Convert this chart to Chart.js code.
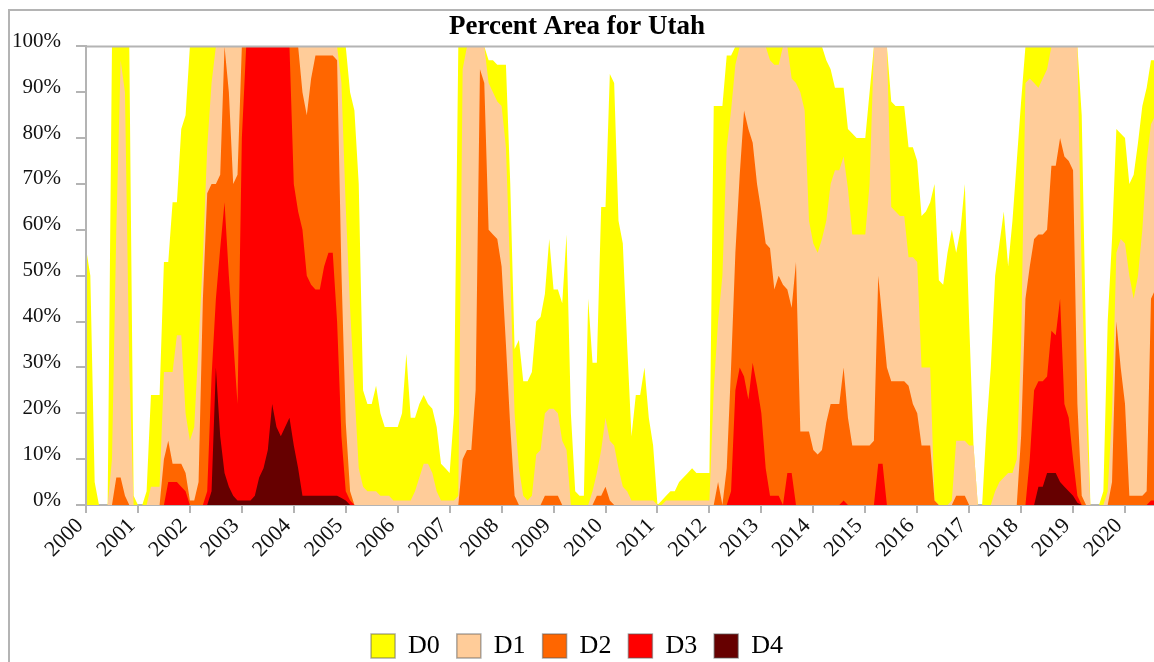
<!DOCTYPE html>
<html>
<head>
<meta charset="utf-8">
<title>Percent Area for Utah</title>
<script src="https://cdn.jsdelivr.net/npm/chart.js"></script>
<style>
  html, body { margin: 0; padding: 0; background: #fff; }
</style>
</head>
<body>
<canvas id="utah" width="1154" height="662"></canvas>
<script>
// percent of area, sampled monthly from Jan 2000, one row per year
const d0 = [
  56, 50, 5, 0, 0, 0, 100, 100, 100, 100, 100, 2,
  0, 0, 3, 24, 24, 24, 53, 53, 66, 66, 82, 85,
  100, 100, 100, 100, 100, 100, 100, 100, 100, 100, 100, 100,
  100, 100, 100, 100, 100, 100, 100, 100, 100, 100, 100, 100,
  100, 100, 100, 100, 100, 100, 100, 100, 100, 100, 100, 100,
  100, 90, 86, 70, 25, 22, 22, 26, 20, 17, 17, 17,
  17, 20, 33, 19, 19, 22, 24, 22, 21, 17, 9, 8,
  7, 20, 100, 100, 100, 100, 100, 100, 100, 97, 97, 96,
  96, 96, 70, 34, 36, 27, 27, 29, 40, 41, 46, 58,
  47, 47, 44, 59, 20, 3, 2, 2, 45, 31, 31, 65,
  65, 94, 92, 62, 57, 35, 15, 24, 24, 30, 19, 13,
  0, 1, 2, 3, 3, 5, 6, 7, 8, 7, 7, 7,
  7, 87, 87, 87, 98, 98, 100, 100, 100, 100, 100, 100,
  100, 100, 100, 100, 100, 100, 100, 100, 100, 100, 100, 100,
  100, 100, 100, 97, 95, 91, 91, 91, 82, 81, 80, 80,
  80, 90, 100, 100, 100, 100, 88, 87, 87, 87, 78, 78,
  75, 63, 64, 66, 70, 49, 48, 55, 60, 55, 60, 70,
  40, 13, 0, 0, 17, 30, 50, 57, 64, 52, 62, 75,
  88, 100, 100, 100, 100, 100, 100, 100, 100, 100, 100, 100,
  100, 100, 85, 35, 0, 0, 0, 3, 40, 58, 82, 81,
  80, 70, 72, 79, 87, 91, 97, 97
];
const d1 = [
  0, 0, 0, 0, 0, 0, 10, 60, 97, 90, 30, 0,
  0, 0, 0, 4, 4, 4, 29, 29, 29, 37, 37, 20,
  14, 17, 35, 54, 78, 92, 100, 100, 100, 100, 100, 100,
  100, 100, 100, 100, 100, 100, 100, 100, 100, 100, 100, 100,
  100, 100, 100, 100, 100, 100, 100, 100, 100, 100, 100, 92,
  65, 43, 25, 8, 4, 3, 3, 3, 2, 2, 2, 1,
  1, 1, 1, 1, 3, 6, 9, 9, 7, 3, 1, 1,
  1, 1, 2, 95, 100, 100, 100, 100, 100, 92, 90, 88,
  87, 78, 50, 20, 8, 2, 1, 2, 11, 12, 20, 21,
  21, 20, 14, 12, 0, 0, 0, 0, 0, 3, 7, 12,
  19, 14, 13, 8, 4, 3, 1, 1, 1, 1, 1, 1,
  0, 0, 1, 1, 1, 1, 1, 1, 1, 1, 1, 1,
  1, 25, 40, 50, 78, 86, 96, 100, 100, 100, 100, 100,
  100, 100, 97, 96, 96, 100, 100, 93, 92, 90, 86, 62,
  57, 55, 58, 62, 70, 73, 73, 76, 69, 59, 59, 59,
  59, 70, 100, 100, 100, 100, 65, 64, 63, 63, 54, 54,
  53, 30, 30, 30, 1, 0, 0, 0, 1, 14, 14, 14,
  13, 13, 0, 0, 0, 0, 3, 5, 6, 7, 7, 10,
  35, 92, 93, 92, 91, 93, 95, 100, 100, 100, 100, 100,
  100, 100, 50, 20, 0, 0, 0, 0, 3, 20, 55, 58,
  57, 50, 45, 50, 60, 75, 83, 85
];
const d2 = [
  0, 0, 0, 0, 0, 0, 0, 6, 6, 2, 0, 0,
  0, 0, 0, 0, 0, 0, 10, 14, 9, 9, 9, 7,
  1, 1, 5, 45, 68, 70, 70, 72, 100, 90, 70, 72,
  100, 100, 100, 100, 100, 100, 100, 100, 100, 100, 100, 100,
  100, 100, 90, 85, 93, 98, 98, 98, 98, 98, 97, 51,
  18, 3, 0, 0, 0, 0, 0, 0, 0, 0, 0, 0,
  0, 0, 0, 0, 0, 0, 0, 0, 0, 0, 0, 0,
  0, 0, 0, 10, 12, 12, 25, 95, 92, 60, 59, 58,
  52, 35, 17, 2, 0, 0, 0, 0, 0, 0, 2, 2,
  2, 2, 0, 0, 0, 0, 0, 0, 0, 0, 2, 2,
  4, 1, 0, 0, 0, 0, 0, 0, 0, 0, 0, 0,
  0, 0, 0, 0, 0, 0, 0, 0, 0, 0, 0, 0,
  0, 0, 5, 0, 8, 30, 55, 72, 86, 82, 79, 70,
  64, 57, 56, 47, 50, 48, 47, 43, 53, 16, 16, 16,
  12, 11, 12, 18, 22, 22, 22, 30, 19, 13, 13, 13,
  13, 13, 14, 50, 40, 30, 27, 27, 27, 27, 26, 22,
  20, 13, 13, 13, 1, 0, 0, 0, 0, 2, 2, 2,
  0, 0, 0, 0, 0, 0, 0, 0, 0, 0, 0, 0,
  15, 45, 52, 58, 59, 59, 60, 74, 74, 80, 76, 75,
  73, 22, 2, 0, 0, 0, 0, 0, 0, 5, 40, 30,
  22, 2, 2, 2, 2, 3, 45, 47
];
const d3 = [
  0, 0, 0, 0, 0, 0, 0, 0, 0, 0, 0, 0,
  0, 0, 0, 0, 0, 0, 0, 5, 5, 5, 4, 3,
  0, 0, 0, 0, 3, 28, 45, 56, 66, 50, 36, 22,
  80, 100, 100, 100, 100, 100, 100, 100, 100, 100, 100, 100,
  70, 64, 60, 50, 48, 47, 47, 52, 55, 55, 40, 15,
  3, 1, 0, 0, 0, 0, 0, 0, 0, 0, 0, 0,
  0, 0, 0, 0, 0, 0, 0, 0, 0, 0, 0, 0,
  0, 0, 0, 0, 0, 0, 0, 0, 0, 0, 0, 0,
  0, 0, 0, 0, 0, 0, 0, 0, 0, 0, 0, 0,
  0, 0, 0, 0, 0, 0, 0, 0, 0, 0, 0, 0,
  0, 0, 0, 0, 0, 0, 0, 0, 0, 0, 0, 0,
  0, 0, 0, 0, 0, 0, 0, 0, 0, 0, 0, 0,
  0, 0, 0, 0, 0, 3, 25, 30, 28, 23, 31, 26,
  20, 8, 2, 2, 2, 0, 7, 7, 0, 0, 0, 0,
  0, 0, 0, 0, 0, 0, 0, 1, 0, 0, 0, 0,
  0, 0, 0, 9, 9, 0, 0, 0, 0, 0, 0, 0,
  0, 0, 0, 0, 0, 0, 0, 0, 0, 0, 0, 0,
  0, 0, 0, 0, 0, 0, 0, 0, 0, 0, 0, 0,
  0, 0, 10, 25, 27, 27, 28, 38, 37, 45, 22, 19,
  10, 2, 0, 0, 0, 0, 0, 0, 0, 0, 0, 0,
  0, 0, 0, 0, 0, 0, 1, 1
];
const d4 = [
  0, 0, 0, 0, 0, 0, 0, 0, 0, 0, 0, 0,
  0, 0, 0, 0, 0, 0, 0, 0, 0, 0, 0, 0,
  0, 0, 0, 0, 0, 3, 30, 15, 7, 4, 2, 1,
  1, 1, 1, 2, 6, 8, 12, 22, 17, 15, 17, 19,
  13, 8, 2, 2, 2, 2, 2, 2, 2, 2, 2, 1.5,
  1, 0, 0, 0, 0, 0, 0, 0, 0, 0, 0, 0,
  0, 0, 0, 0, 0, 0, 0, 0, 0, 0, 0, 0,
  0, 0, 0, 0, 0, 0, 0, 0, 0, 0, 0, 0,
  0, 0, 0, 0, 0, 0, 0, 0, 0, 0, 0, 0,
  0, 0, 0, 0, 0, 0, 0, 0, 0, 0, 0, 0,
  0, 0, 0, 0, 0, 0, 0, 0, 0, 0, 0, 0,
  0, 0, 0, 0, 0, 0, 0, 0, 0, 0, 0, 0,
  0, 0, 0, 0, 0, 0, 0, 0, 0, 0, 0, 0,
  0, 0, 0, 0, 0, 0, 0, 0, 0, 0, 0, 0,
  0, 0, 0, 0, 0, 0, 0, 0, 0, 0, 0, 0,
  0, 0, 0, 0, 0, 0, 0, 0, 0, 0, 0, 0,
  0, 0, 0, 0, 0, 0, 0, 0, 0, 0, 0, 0,
  0, 0, 0, 0, 0, 0, 0, 0, 0, 0, 0, 0,
  0, 0, 0, 0, 4, 4, 7, 7, 7, 5, 4, 3,
  2, 0.5, 0, 0, 0, 0, 0, 0, 0, 0, 0, 0,
  0, 0, 0, 0, 0, 0, 0, 0
];

const yearTicks = [2000, 2001, 2002, 2003, 2004, 2005, 2006, 2007, 2008, 2009, 2010,
                   2011, 2012, 2013, 2014, 2015, 2016, 2017, 2018, 2019, 2020];
const pctTicks = [0, 10, 20, 30, 40, 50, 60, 70, 80, 90, 100];

// sample dates: first of each month
const dates = d0.map((v, i) => 2000 + i / 12);
const pts = arr => arr.map((v, i) => ({ x: dates[i], y: v }));

const serif = "'Liberation Serif', 'DejaVu Serif', serif";
const gray = '#b4b4b4';

const area = (label, arr, color) => ({
  label: label,
  data: pts(arr),
  backgroundColor: color,
  borderColor: 'rgba(0,0,0,0)',
  borderWidth: 0,
  pointRadius: 0,
  fill: 'origin'
});

const frame = {
  id: 'frame',
  beforeDraw(chart) {
    const { ctx, width, height } = chart;
    ctx.save();
    ctx.fillStyle = '#fff';
    ctx.fillRect(0, 0, width, height);
    ctx.strokeStyle = gray;
    ctx.lineWidth = 2;
    ctx.beginPath();
    ctx.moveTo(9, height);
    ctx.lineTo(9, 10);
    ctx.lineTo(width, 10);
    ctx.stroke();
    ctx.restore();
  },
  afterDatasetsDraw(chart) {
    const { ctx, chartArea: a } = chart;
    ctx.save();
    ctx.strokeStyle = gray;
    ctx.lineWidth = 2;
    ctx.beginPath();
    ctx.moveTo(a.left, a.bottom);
    ctx.lineTo(a.left, a.top);
    ctx.lineTo(a.right, a.top);
    ctx.stroke();
    ctx.restore();
  }
};

// D4 first so it is painted last (on top)
new Chart(document.getElementById('utah'), {
  type: 'line',
  data: {
    datasets: [
      area('D4', d4, '#660000'),
      area('D3', d3, '#ff0000'),
      area('D2', d2, '#ff6600'),
      area('D1', d1, '#ffcc99'),
      area('D0', d0, '#ffff00')
    ]
  },
  options: {
    responsive: false,
    animation: false,
    layout: { padding: { left: 0, right: 0, top: 0, bottom: -7 } },
    elements: { line: { tension: 0 } },
    plugins: {
      title: {
        display: true,
        text: 'Percent Area for Utah',
        color: '#000',
        font: { family: serif, size: 27, weight: 'bold' },
        padding: { top: 11, bottom: 3 }
      },
      legend: {
        position: 'bottom',
        reverse: true,
        labels: {
          color: '#000',
          font: { family: serif, size: 26 },
          boxWidth: 24,
          boxHeight: 24,
          padding: 17,
          generateLabels(chart) {
            const items = Chart.defaults.plugins.legend.labels.generateLabels(chart);
            items.forEach(it => { it.lineWidth = 1.5; it.strokeStyle = 'rgba(90,90,90,0.5)'; });
            return items;
          }
        }
      },
      tooltip: { enabled: false }
    },
    scales: {
      x: {
        type: 'linear',
        min: 2000,
        max: 2020.558,
        afterBuildTicks: axis => { axis.ticks = yearTicks.map(v => ({ value: v })); },
        afterFit: scale => { scale.height = 111; },
        ticks: {
          color: '#111',
          font: { family: serif, size: 22 },
          minRotation: 45,
          maxRotation: 45,
          autoSkip: false,
          padding: 0,
          labelOffset: -6,
          callback: v => String(v)
        },
        grid: { drawOnChartArea: false, tickLength: 8, color: gray, lineWidth: 2 },
        border: { color: gray, width: 2 }
      },
      y: {
        min: 0,
        max: 100,
        afterBuildTicks: axis => { axis.ticks = pctTicks.map(v => ({ value: v })); },
        afterFit: scale => { scale.width = 86; },
        ticks: {
          color: '#111',
          font: { family: serif, size: 21 },
          padding: 15,
          labelOffset: -5,
          callback: v => v + '%'
        },
        grid: { drawOnChartArea: false, tickLength: 10, color: gray, lineWidth: 2 },
        border: { color: gray, width: 2 }
      }
    }
  },
  plugins: [frame]
});
</script>
</body>
</html>
